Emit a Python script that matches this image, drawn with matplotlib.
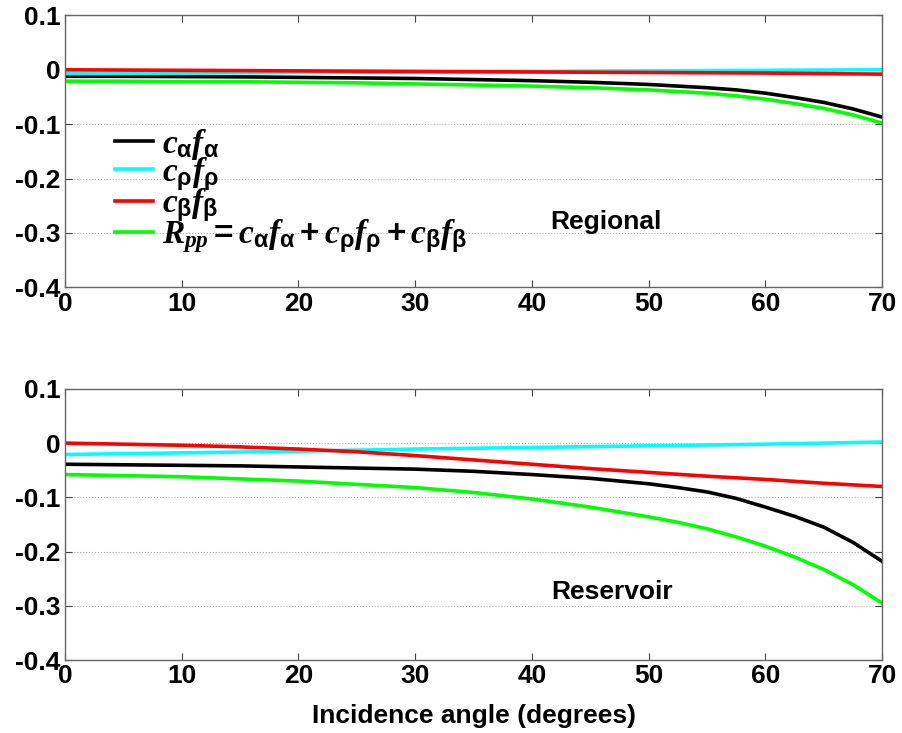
import matplotlib
matplotlib.use('Agg')
import matplotlib.pyplot as plt

plt.rcParams['font.family'] = ['Liberation Sans', 'DejaVu Sans']
plt.rcParams['font.weight'] = 'bold'
plt.rcParams['mathtext.fontset'] = 'custom'
plt.rcParams['mathtext.rm'] = 'Liberation Sans:bold'
plt.rcParams['mathtext.it'] = 'Liberation Serif:bold:italic'
plt.rcParams['mathtext.bf'] = 'Liberation Serif:bold'

# incidence angles (degrees)
angles = [0, 5, 10, 15, 20, 25, 30, 35, 40, 45, 50, 52.5, 55, 57.5, 60, 62.5, 65, 67.5, 70]

# Regional
reg_alpha = [-0.012, -0.012, -0.0125, -0.013, -0.014, -0.015, -0.016, -0.018, -0.020, -0.023, -0.027,
             -0.030, -0.033, -0.037, -0.043, -0.051, -0.060, -0.072, -0.087]
reg_rho = [-0.007, -0.0065, -0.006, -0.0055, -0.005, -0.0045, -0.004, -0.0035, -0.003, -0.0025, -0.002,
           -0.00175, -0.0015, -0.00125, -0.001, -0.00075, -0.0005, -0.00025, 0.0]
reg_beta = [0.0, -0.0005, -0.001, -0.0015, -0.002, -0.0025, -0.003, -0.0035, -0.004, -0.0045, -0.005,
            -0.00525, -0.0055, -0.00575, -0.006, -0.0065, -0.007, -0.0075, -0.008]
reg_rpp = [-0.021, -0.021, -0.022, -0.022, -0.023, -0.024, -0.026, -0.028, -0.030, -0.033, -0.037,
           -0.040, -0.043, -0.048, -0.054, -0.062, -0.071, -0.083, -0.098]

# Reservoir
res_alpha = [-0.039, -0.040, -0.041, -0.042, -0.044, -0.046, -0.048, -0.052, -0.058, -0.065, -0.075,
             -0.082, -0.090, -0.102, -0.118, -0.135, -0.155, -0.183, -0.218]
res_rho = [-0.021, -0.0195, -0.018, -0.0165, -0.015, -0.013, -0.011, -0.0095, -0.008, -0.0065, -0.005,
           -0.00425, -0.0035, -0.00275, -0.002, -0.001, 0.0, 0.001, 0.002]
res_beta = [0.0, -0.002, -0.004, -0.007, -0.011, -0.016, -0.023, -0.031, -0.039, -0.047, -0.054,
            -0.0575, -0.061, -0.064, -0.067, -0.0705, -0.074, -0.077, -0.080]
res_rpp = [-0.058, -0.060, -0.062, -0.066, -0.070, -0.076, -0.082, -0.091, -0.103, -0.118, -0.136,
           -0.146, -0.158, -0.173, -0.190, -0.210, -0.233, -0.261, -0.295]

labels = [r'$c_{\mathrm{\alpha}}f_{\mathrm{\alpha}}$', r'$c_{\mathrm{\rho}}f_{\mathrm{\rho}}$',
          r'$c_{\mathrm{\beta}}f_{\mathrm{\beta}}$',
          r'$R_{pp}=c_{\mathrm{\alpha}}f_{\mathrm{\alpha}}+c_{\mathrm{\rho}}f_{\mathrm{\rho}}+c_{\mathrm{\beta}}f_{\mathrm{\beta}}$']
colors = ['black', '#00ffff', '#ff0000', '#00ff00']
yticks = [0.1, 0, -0.1, -0.2, -0.3, -0.4]
ytick_labels = ['0.1', '0', '-0.1', '-0.2', '-0.3', '-0.4']

fig = plt.figure(figsize=(9.02, 7.33), dpi=100)
ax1 = fig.add_axes([0.072, 0.608, 0.906, 0.371])
ax2 = fig.add_axes([0.072, 0.0995, 0.906, 0.370])


def style(ax):
    ax.set_xlim(0, 70)
    ax.set_ylim(-0.4, 0.1)
    ax.set_yticks(yticks)
    ax.set_yticklabels(ytick_labels)
    ax.set_xticks(range(0, 71, 10))
    ax.tick_params(direction='in', top=True, right=True, length=5, width=0.8,
                   labelsize=19, color='#444444', pad=3)
    for lab in ax.get_xticklabels() + ax.get_yticklabels():
        lab.set_fontweight('bold')
    ax.yaxis.grid(True, linestyle=':', color='#aaaaaa', linewidth=0.8)
    ax.set_axisbelow(True)
    for s in ax.spines.values():
        s.set_color('#666666')
        s.set_linewidth(1.0)


lines = []
for data, c, lab in zip([reg_alpha, reg_rho, reg_beta, reg_rpp], colors, labels):
    l, = ax1.plot(angles, data, color=c, lw=2.6, label=lab)
    lines.append(l)
for data, c in zip([res_alpha, res_rho, res_beta, res_rpp], colors):
    ax2.plot(angles, data, color=c, lw=2.6)

style(ax1)
style(ax2)

ax1.text(46.3, -0.28, 'Regional', fontsize=19, fontweight='bold', ha='center', va='center')
ax2.text(46.9, -0.275, 'Reservoir', fontsize=19, fontweight='bold', ha='center', va='center')
ax2.set_xlabel('Incidence angle (degrees)', fontsize=19, fontweight='bold', labelpad=11)

leg = ax1.legend(handles=lines, loc='upper left', bbox_to_anchor=(0.045, 0.64),
                 frameon=False, fontsize=24, handlelength=1.15, handletextpad=0.25,
                 labelspacing=-0.2, borderaxespad=0)

fig.savefig('out.png', dpi=100)
